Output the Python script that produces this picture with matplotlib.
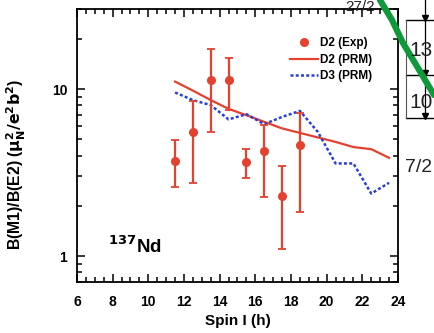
import numpy as np
import matplotlib
matplotlib.use("Agg")
import matplotlib.pyplot as plt
from matplotlib.lines import Line2D
from matplotlib.ticker import MultipleLocator, FixedLocator, NullFormatter, FuncFormatter, LogLocator

plt.rcParams["font.family"] = ["Liberation Sans", "DejaVu Sans"]

# D2 experimental B(M1)/B(E2) ratios with asymmetric errors
exp_spin = [11.5, 12.5, 13.5, 14.5, 15.5, 16.5, 17.5, 18.5]
exp_val = [3.72, 5.55, 11.3, 11.3, 3.64, 4.25, 2.29, 4.6]
exp_hi = [4.93, 8.5, 17.3, 15.3, 4.37, 6.09, 3.47, 7.15]
exp_lo = [2.58, 2.74, 5.53, 7.48, 2.94, 2.26, 1.11, 1.85]

# PRM calculations
prm_spin = [11.5, 12.5, 13.5, 14.5, 15.5, 16.5, 17.5, 18.5, 19.5, 20.5, 21.5, 22.5, 23.5]
d2_prm = [11.1, 9.8, 8.6, 7.62, 6.98, 6.37, 5.82, 5.47, 5.14, 4.83, 4.5, 4.37, 3.88]
d3_prm = [9.55, 8.6, 8.02, 6.59, 7.08, 6.17, 6.82, 7.41, 5.55, 3.59, 3.59, 2.37, 2.75]

RED = "#e5412f"
BLUE = "#2a3fd6"


def px(x, y, W=434, H=333):
    return x / W, 1 - y / H


def draw_neighbour(fig):
    # bits of the neighbouring level-scheme panel that fall inside the crop
    tf = fig.transFigure
    for y in (20, 75, 118):
        (x0, fy), (x1, _) = px(406, y), px(434, y)
        fig.add_artist(Line2D([x0, x1], [fy, fy], color="black", lw=1.0, transform=tf))
    (vx, vy0), (_, vy1) = px(406, 20), px(406, 118)
    fig.add_artist(Line2D([vx, vx], [vy0, vy1], color="#555555", lw=0.8, transform=tf))
    (ax_, ay0), (_, ay1) = px(425, 0), px(425, 118)
    fig.add_artist(Line2D([ax_, ax_], [ay0, ay1], color="black", lw=0.9, transform=tf))
    for y in (18, 73, 116):
        fx, fy = px(425, y)
        fig.add_artist(Line2D([fx], [fy], marker="v", color="black", ms=4, transform=tf))
    gx = [380, 392, 403, 418, 434]
    gy = [0, 20, 43, 68, 95]
    pts = [px(a, b) for a, b in zip(gx, gy)]
    fig.add_artist(Line2D([p[0] for p in pts], [p[1] for p in pts], color="#0e9a3a",
                          lw=4.5, solid_capstyle="round", transform=tf))
    for s, (x, y), fs in [("27/2", (345, 7), 11), ("13", (409, 51), 15),
                          ("10", (409, 102), 15), ("7/2", (405, 167), 14)]:
        fx, fy = px(x, y)
        fig.text(fx, fy, s, fontsize=fs, va="center", ha="left", color="#222222")


fig = plt.figure(figsize=(4.34, 3.33), dpi=100)
ax = fig.add_axes([77 / 434, 51 / 333, 321 / 434, 273 / 333])

yerr = [np.array(exp_val) - np.array(exp_lo), np.array(exp_hi) - np.array(exp_val)]
ax.errorbar(exp_spin, exp_val, yerr=yerr, fmt="none", ecolor=RED, elinewidth=1.6,
            capsize=3, capthick=1.3, zorder=3)
ax.plot(exp_spin, exp_val, "o", color=RED, ms=5.5, label="D2 (Exp)", zorder=4)
ax.plot(prm_spin, d2_prm, "-", color=RED, lw=1.6, label="D2 (PRM)", zorder=2)
ax.plot(prm_spin, d3_prm, color=BLUE, lw=1.8, linestyle=(0, (1.2, 0.9)),
        label="D3 (PRM)", zorder=2)

ax.set_yscale("log")
ax.set_xlim(6, 24)
ax.set_ylim(0.70, 30.2)

ax.xaxis.set_major_locator(MultipleLocator(2))
ax.xaxis.set_minor_locator(MultipleLocator(0.5))
ax.yaxis.set_major_locator(FixedLocator([1, 10]))
ax.yaxis.set_minor_locator(LogLocator(base=10, subs=np.arange(2, 10)))
ax.yaxis.set_major_formatter(FuncFormatter(lambda v, p: f"{v:g}"))
ax.yaxis.set_minor_formatter(NullFormatter())

ax.tick_params(which="both", direction="in", top=True, right=True, width=1.1)
ax.tick_params(which="major", length=6, labelsize=10, pad=7)
ax.tick_params(axis="x", which="major", pad=9)
ax.tick_params(which="minor", length=3.5)
for lab in ax.get_xticklabels() + ax.get_yticklabels():
    lab.set_fontweight("bold")
for sp in ax.spines.values():
    sp.set_linewidth(1.3)

ax.set_xlabel("Spin I (h)", fontsize=11, fontweight="bold", labelpad=4)
ax.set_ylabel(r"B(M1)/B(E2) ($\mathbf{\mu_N^2/e^2b^2}$)", fontsize=11.3,
              fontweight="bold")
ax.yaxis.set_label_coords(-0.153, 0.432)

ax.text(0.097, 0.105, r"$^{\mathbf{137}}$Nd", transform=ax.transAxes,
        fontsize=13.5, fontweight="bold")

leg = ax.legend(loc="upper right", bbox_to_anchor=(0.935, 0.915), frameon=False,
                fontsize=8.5, handlelength=2.4, handletextpad=0.2, labelspacing=0.4,
                borderaxespad=0)
for t in leg.get_texts():
    t.set_fontweight("bold")

draw_neighbour(fig)

fig.savefig("out.png", dpi=100)
